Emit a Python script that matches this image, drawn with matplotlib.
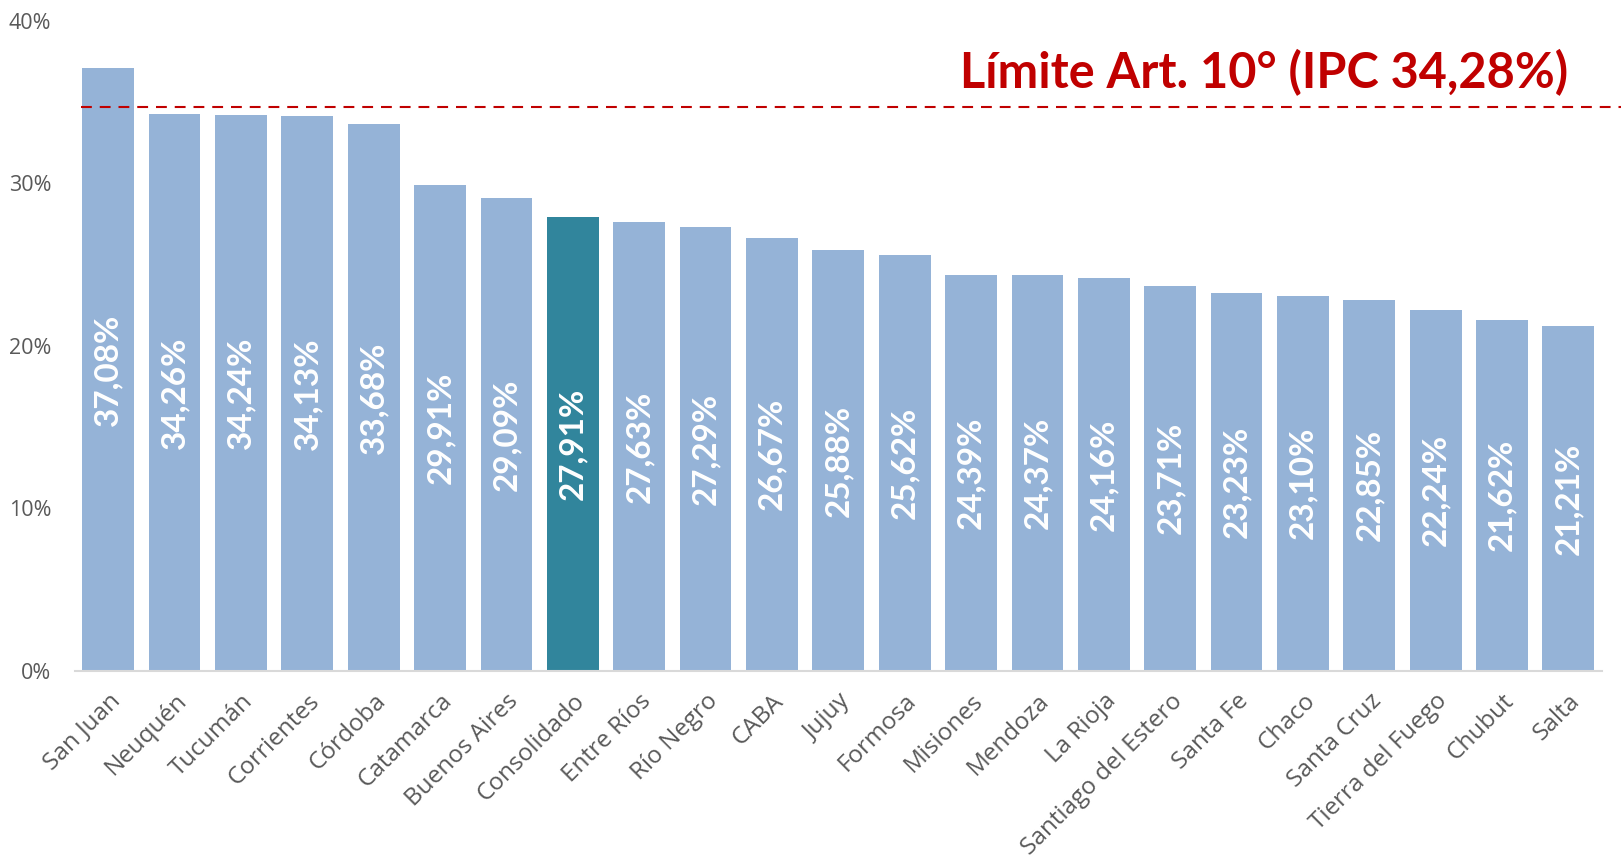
import matplotlib
matplotlib.use("Agg")
import matplotlib.pyplot as plt
from matplotlib.ticker import FuncFormatter

provincias = ["San Juan", "Neuquén", "Tucumán", "Corrientes", "Córdoba", "Catamarca",
              "Buenos Aires", "Consolidado", "Entre Ríos", "Río Negro", "CABA", "Jujuy",
              "Formosa", "Misiones", "Mendoza", "La Rioja", "Santiago del Estero",
              "Santa Fe", "Chaco", "Santa Cruz", "Tierra del Fuego", "Chubut", "Salta"]
aumento = [37.08, 34.26, 34.24, 34.13, 33.68, 29.91, 29.09, 27.91, 27.63, 27.29, 26.67,
           25.88, 25.62, 24.39, 24.37, 24.16, 23.71, 23.23, 23.10, 22.85, 22.24, 21.62,
           21.21]
destacado = "Consolidado"
limite_txt = "Límite Art. 10° (IPC 34,28%)"
limite_linea = 34.7  # donde queda dibujada la línea en el original

AZUL = "#95B3D7"
VERDE = "#31859C"
ROJO = "#C00000"
GRIS = "#595959"

fig = plt.figure(figsize=(16.21, 8.59), dpi=100)
ax = fig.add_axes([0.0463, 0.2189, 0.9417, 0.7567])

x = range(len(provincias))
colores = [VERDE if p == destacado else AZUL for p in provincias]
ax.bar(x, aumento, width=0.78, color=colores, zorder=2)

for i, v in enumerate(aumento):
    ax.text(i, v / 2, f"{v:.2f}%".replace(".", ","), rotation=90, ha="center",
            va="center", color="white", fontsize=24, fontweight="bold",
            family="Lato", zorder=3)

ax.axhline(limite_linea, xmin=0.004, xmax=1.02, color=ROJO, lw=1.5,
           ls=(0, (5.2, 3.8)), clip_on=False, zorder=4)
ax.text(0.978, 0.897, limite_txt, transform=ax.transAxes, ha="right",
        va="baseline", color=ROJO, fontsize=35, fontweight="bold", family="Lato")

ax.set_xlim(-0.5, len(provincias) - 0.5)
ax.set_ylim(0, 40)
ax.set_yticks([0, 10, 20, 30, 40])
ax.yaxis.set_major_formatter(FuncFormatter(lambda v, _: f"{v:.0f}%"))
ax.set_xticks(list(x))
ax.set_xticklabels(provincias, rotation=45, ha="right", rotation_mode="anchor",
                   family="Open Sans", fontsize=17.5, color=GRIS)
for lab in ax.get_yticklabels():
    lab.set_family("Open Sans")
    lab.set_fontsize(15.5)
    lab.set_color(GRIS)
ax.tick_params(axis="both", length=0)
ax.tick_params(axis="x", pad=13)
ax.tick_params(axis="y", pad=17)

for s in ["top", "right", "left"]:
    ax.spines[s].set_visible(False)
ax.spines["bottom"].set_color("#D9D9D9")
ax.spines["bottom"].set_linewidth(1.5)

fig.savefig("out.png", dpi=100)
